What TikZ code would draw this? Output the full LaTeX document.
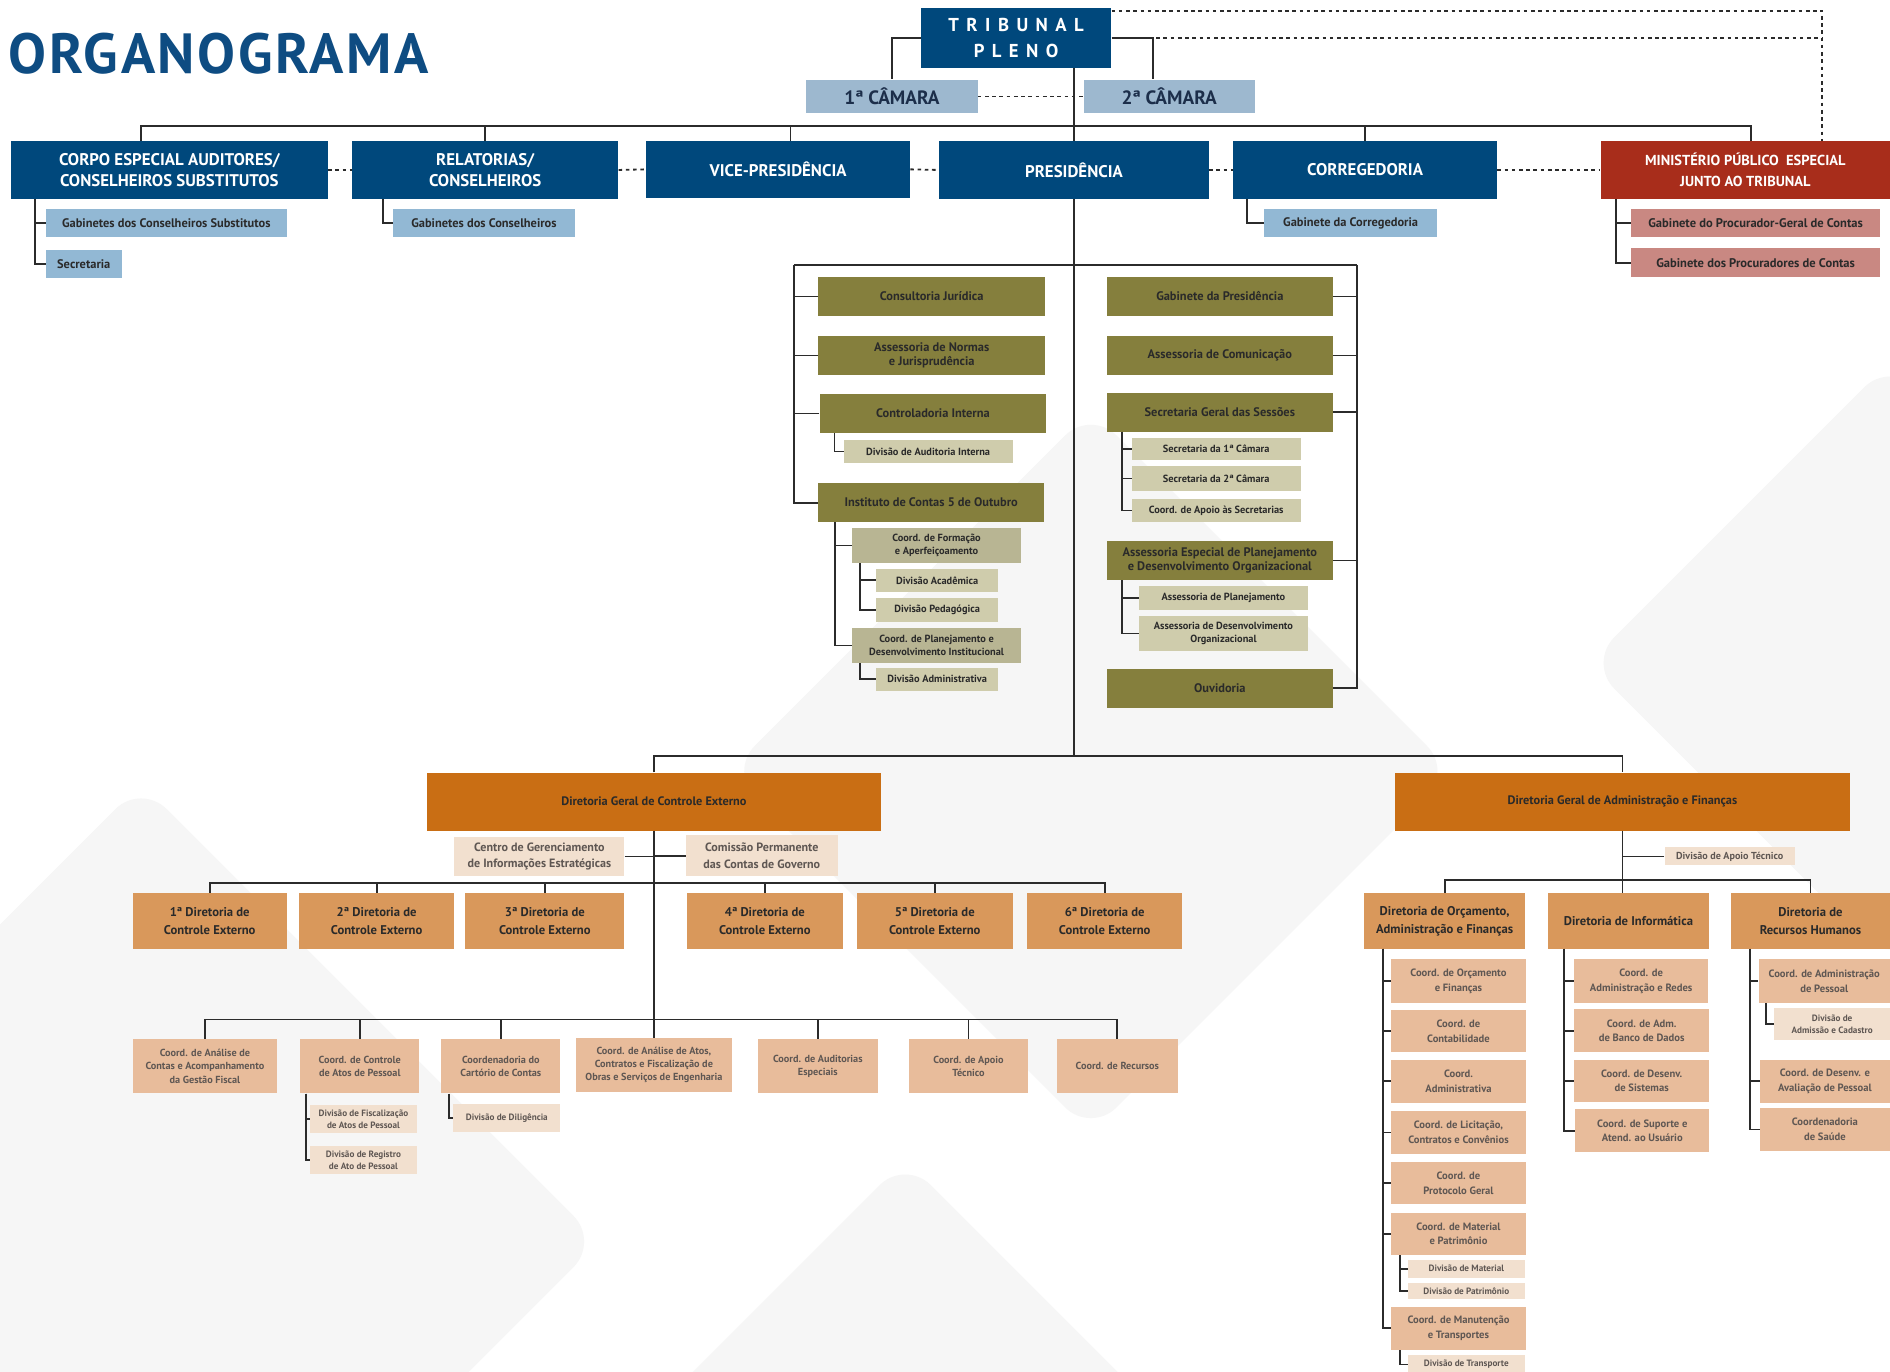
\documentclass[tikz,border=0pt]{standalone}
\usepackage{fontspec}
\setmainfont{PT Sans}
\newfontfamily\spaced{PT Sans}[LetterSpace=40]
\newfontfamily\titlefont{PT Sans}[LetterSpace=4.5]
\usepackage{xcolor}
\usepackage{tikz}

\definecolor{navy}{HTML}{00487C}
\definecolor{titleblue}{HTML}{0E4C82}
\definecolor{camblue}{HTML}{9DB8CF}
\definecolor{camtxt}{HTML}{1C2E4A}
\definecolor{subblue}{HTML}{92B8D4}
\definecolor{mpred}{HTML}{A82D1B}
\definecolor{pinkbox}{HTML}{C98882}
\definecolor{olive}{HTML}{857F3D}
\definecolor{khakil}{HTML}{CFCCAC}
\definecolor{khakid}{HTML}{B8B593}
\definecolor{dkorange}{HTML}{C96E14}
\definecolor{mdorange}{HTML}{D9985B}
\definecolor{peach}{HTML}{E8BC9B}
\definecolor{lightpeach}{HTML}{F2E0CF}
\definecolor{txtdark}{HTML}{2A2A2A}
\definecolor{txtgray}{HTML}{5F5753}
\definecolor{linec}{HTML}{2B2B2B}

\newcommand{\setfs}[2]{\fontsize{#1}{#2}\selectfont}
% name, style, x1, y1, x2, y2, text
\newcommand{\orgbox}[7]{%
  \node[#2,minimum width=#5-#3,minimum height=#6-#4] (#1) at ({(#3+#5)/2},{(#4+#6)/2}) {#7};}

\tikzset{
  box/.style={rectangle,inner sep=0pt,align=center},
  navybox/.style={box,fill=navy,text=white,font=\bfseries\setfs{14}{18}},
  tribbox/.style={box,fill=navy,text=white,font=\spaced\bfseries\setfs{15.5}{21}},
  camara/.style={box,fill=camblue,text=camtxt,font=\bfseries\setfs{16}{18}},
  bluesub/.style={box,fill=subblue,text=txtdark,font=\bfseries\setfs{10.3}{12}},
  mpbox/.style={box,fill=mpred,text=white,font=\bfseries\setfs{12}{17}},
  pinksub/.style={box,fill=pinkbox,text=txtdark,font=\bfseries\setfs{10.4}{12}},
  olivebox/.style={box,fill=olive,text=txtdark,font=\bfseries\setfs{10.3}{12}},
  khakibox/.style={box,fill=khakil,text=txtdark,font=\bfseries\setfs{8.6}{10.5}},
  khakidbox/.style={box,fill=khakid,text=txtdark,font=\bfseries\setfs{8.6}{10.5}},
  dgbox/.style={box,fill=dkorange,text=txtdark,font=\bfseries\setfs{10.2}{12}},
  dirbox/.style={box,fill=mdorange,text=txtdark,font=\bfseries\setfs{10.5}{15}},
  coordbox/.style={box,fill=peach,text=txtgray,font=\bfseries\setfs{8.5}{11}},
  coordrbox/.style={box,fill=peach,text=txtgray,font=\bfseries\setfs{8.8}{12}},
  lightbox/.style={box,fill=lightpeach,text=txtgray,font=\bfseries\setfs{7.6}{10}},
  lightwide/.style={box,fill=lightpeach,text=txtgray,font=\bfseries\setfs{10}{14}},
  link/.style={draw=linec,line width=1.5pt},
  dots/.style={draw=linec,line width=1.5pt,dash pattern=on 3pt off 3pt},
  wm/.style={fill=black!3.5,rounded corners=30pt}
}

\begin{document}
\begin{tikzpicture}[x=1pt,y=-1pt]
\fill[white] (0,0) rectangle (1568,1138);
\useasboundingbox (0,0) rectangle (1568,1138);

\begin{scope}
\clip (0,0) rectangle (1568,1138);
\fill[wm] (117,650) -- (497,1030) -- (117,1410) -- (-263,1030) -- cycle;
\fill[wm] (905,340) -- (1205,640) -- (905,940) -- (605,640) -- cycle;
\fill[wm] (751,962) -- (1051,1262) -- (751,1562) -- (451,1262) -- cycle;
\fill[wm] (1568,300) -- (1818,550) -- (1568,800) -- (1318,550) -- cycle;
\end{scope}

\node[font=\titlefont\bfseries\setfs{47}{47},text=titleblue,anchor=base west,inner sep=0pt] (titulo) at (7,61) {ORGANOGRAMA};

\orgbox{trib}{tribbox}{764}{7}{922}{56}{TRIBUNAL\\PLENO}
\orgbox{cam1}{camara}{669}{66}{811}{94}{1ª CÂMARA}
\orgbox{cam2}{camara}{899}{66}{1041}{94}{2ª CÂMARA}

\orgbox{corpo}{navybox}{9}{117}{272}{165}{CORPO ESPECIAL AUDITORES/\\CONSELHEIROS SUBSTITUTOS}
\orgbox{relat}{navybox}{292}{117}{513}{165}{RELATORIAS/\\CONSELHEIROS}
\orgbox{vice}{navybox}{536}{117}{755}{164}{VICE-PRESIDÊNCIA}
\orgbox{pres}{navybox}{779}{117}{1003}{165}{PRESIDÊNCIA}
\orgbox{correg}{navybox}{1023}{117}{1242}{165}{CORREGEDORIA}
\orgbox{mp}{mpbox}{1328}{117}{1568}{165}{MINISTÉRIO PÚBLICO\ \ ESPECIAL\\JUNTO AO TRIBUNAL}

\orgbox{gabsubst}{bluesub}{38}{173}{238}{197}{Gabinetes dos Conselheiros Substitutos}
\orgbox{secret}{bluesub}{38}{207}{101}{231}{Secretaria}
\orgbox{gabcons}{bluesub}{326}{173}{477}{197}{Gabinetes dos Conselheiros}
\orgbox{gabcorr}{bluesub}{1049}{173}{1192}{197}{Gabinete da Corregedoria}
\orgbox{gabpg}{pinksub}{1353}{173}{1560}{197}{Gabinete do Procurador-Geral de Contas}
\orgbox{gabproc}{pinksub}{1353}{206}{1560}{230}{Gabinete dos Procuradores de Contas}

\orgbox{consult}{olivebox}{679}{230}{867}{262}{Consultoria Jurídica}
\orgbox{normas}{olivebox}{679}{279}{867}{311}{Assessoria de Normas\\e Jurisprudência}
\orgbox{control}{olivebox}{680}{327}{868}{359}{Controladoria Interna}
\orgbox{divaud}{khakibox}{700}{365}{840}{384}{Divisão de Auditoria Interna}
\orgbox{instit}{olivebox}{679}{401}{866}{433}{Instituto de Contas 5 de Outubro}
\orgbox{coordform}{khakidbox}{707}{438}{847}{467}{Coord. de Formação\\e Aperfeiçoamento}
\orgbox{divacad}{khakibox}{727}{472}{828}{491}{Divisão Acadêmica}
\orgbox{divped}{khakibox}{727}{496}{828}{516}{Divisão Pedagógica}
\orgbox{coordplan}{khakidbox}{707}{521}{847}{550}{Coord. de Planejamento e\\Desenvolvimento Institucional}
\orgbox{divadm}{khakibox}{727}{554}{828}{573}{Divisão Administrativa}

\orgbox{gabpres}{olivebox}{918}{230}{1106}{262}{Gabinete da Presidência}
\orgbox{ascom}{olivebox}{918}{279}{1106}{311}{Assessoria de Comunicação}
\orgbox{sgs}{olivebox}{918}{326}{1106}{358}{Secretaria Geral das Sessões}
\orgbox{sec1}{khakibox}{939}{363}{1079}{382}{Secretaria da 1ª Câmara}
\orgbox{sec2}{khakibox}{939}{387}{1079}{407}{Secretaria da 2ª Câmara}
\orgbox{apoiosec}{khakibox}{939}{414}{1079}{433}{Coord. de Apoio às Secretarias}
\orgbox{aesp}{olivebox}{918}{449}{1106}{481}{Assessoria Especial de Planejamento\\e Desenvolvimento Organizacional}
\orgbox{asplan}{khakibox}{945}{486}{1085}{506}{Assessoria de Planejamento}
\orgbox{asdes}{khakibox}{945}{511}{1085}{540}{Assessoria de Desenvolvimento\\Organizacional}
\orgbox{ouvid}{olivebox}{918}{555}{1106}{587}{Ouvidoria}

\orgbox{dgce}{dgbox}{354}{641}{731}{689}{Diretoria Geral de Controle Externo}
\orgbox{dgaf}{dgbox}{1157}{641}{1535}{689}{Diretoria Geral de Administração e Finanças}

\orgbox{centro}{lightwide}{377}{694}{518}{727}{Centro de Gerenciamento\\de Informações Estratégicas}
\orgbox{comiss}{lightwide}{569}{693}{695}{727}{Comissão Permanente\\das Contas de Governo}
\orgbox{dir1}{dirbox}{110}{741}{238}{787}{1ª Diretoria de\\Controle Externo}
\orgbox{dir2}{dirbox}{248}{741}{377}{787}{2ª Diretoria de\\Controle Externo}
\orgbox{dir3}{dirbox}{386}{741}{518}{787}{3ª Diretoria de\\Controle Externo}
\orgbox{dir4}{dirbox}{570}{741}{699}{787}{4ª Diretoria de\\Controle Externo}
\orgbox{dir5}{dirbox}{711}{741}{840}{787}{5ª Diretoria de\\Controle Externo}
\orgbox{dir6}{dirbox}{852}{741}{981}{787}{6ª Diretoria de\\Controle Externo}

\orgbox{ca1}{coordbox}{110}{862}{230}{907}{Coord. de Análise de\\Contas e Acompanhamento\\da Gestão Fiscal}
\orgbox{ca2}{coordbox}{249}{862}{348}{907}{Coord. de Controle\\de Atos de Pessoal}
\orgbox{ca3}{coordbox}{366}{862}{465}{907}{Coordenadoria do\\Cartório de Contas}
\orgbox{ca4}{coordbox}{478}{861}{607}{906}{Coord. de Análise de Atos,\\Contratos e Fiscalização de\\Obras e Serviços de Engenharia}
\orgbox{ca5}{coordbox}{629}{862}{728}{907}{Coord. de Auditorias\\Especiais}
\orgbox{ca6}{coordbox}{754}{862}{853}{907}{Coord. de Apoio\\Técnico}
\orgbox{ca7}{coordbox}{877}{862}{977}{907}{Coord. de Recursos}
\orgbox{divfisc}{lightbox}{257}{917}{346}{940}{Divisão de Fiscalização\\de Atos de Pessoal}
\orgbox{divreg}{lightbox}{257}{951}{346}{974}{Divisão de Registro\\de Ato de Pessoal}
\orgbox{divdil}{lightbox}{376}{916}{465}{939}{Divisão de Diligência}

\orgbox{divapoio}{lightbox,font=\bfseries\setfs{8.4}{10}}{1381}{703}{1489}{718}{Divisão de Apoio Técnico}
\orgbox{dorc}{dirbox}{1132}{741}{1265}{787}{Diretoria de Orçamento,\\Administração e Finanças}
\orgbox{dinf}{dirbox}{1284}{741}{1418}{787}{Diretoria de Informática}
\orgbox{drh}{dirbox}{1436}{741}{1568}{787}{Diretoria de\\Recursos Humanos}

\orgbox{co1}{coordrbox}{1154}{796}{1266}{832}{Coord. de Orçamento\\e Finanças}
\orgbox{co2}{coordrbox}{1154}{838}{1266}{873}{Coord. de\\Contabilidade}
\orgbox{co3}{coordrbox}{1154}{879}{1266}{915}{Coord.\\Administrativa}
\orgbox{co4}{coordrbox}{1154}{922}{1266}{957}{Coord. de Licitação,\\Contratos e Convênios}
\orgbox{co5}{coordrbox}{1154}{964}{1266}{999}{Coord. de\\Protocolo Geral}
\orgbox{co6}{coordrbox}{1154}{1006}{1266}{1041}{Coord. de Material\\e Patrimônio}
\orgbox{dmat}{lightbox}{1168}{1045}{1265}{1060}{Divisão de Material}
\orgbox{dpat}{lightbox}{1168}{1064}{1265}{1078}{Divisão de Patrimônio}
\orgbox{co7}{coordrbox}{1154}{1084}{1266}{1120}{Coord. de Manutenção\\e Transportes}
\orgbox{dtra}{lightbox}{1168}{1124}{1265}{1140}{Divisão de Transporte}

\orgbox{ci1}{coordrbox}{1306}{796}{1417}{832}{Coord. de\\Administração e Redes}
\orgbox{ci2}{coordrbox}{1306}{837}{1418}{873}{Coord. de Adm.\\de Banco de Dados}
\orgbox{ci3}{coordrbox}{1306}{879}{1418}{914}{Coord. de Desenv.\\de Sistemas}
\orgbox{ci4}{coordrbox}{1307}{920}{1418}{956}{Coord. de Suporte e\\Atend. ao Usuário}

\orgbox{ch1}{coordrbox}{1459}{796}{1568}{832}{Coord. de Administração\\de Pessoal}
\orgbox{dadm}{lightbox}{1472}{836}{1568}{863}{Divisão de\\Admissão e Cadastro}
\orgbox{ch2}{coordrbox}{1460}{879}{1568}{915}{Coord. de Desenv. e\\Avaliação de Pessoal}
\orgbox{ch3}{coordrbox}{1460}{919}{1568}{955}{Coordenadoria\\de Saúde}

% tribunal e camaras
\draw[link] (trib.west) -| (cam1.north);
\draw[link] (trib.east) -| ([xshift=58]cam2.north west);
\draw[link] (trib.south -| pres.north) -- (pres.north);
\draw[dots] (cam1.east) -- (cam2.west);
\coordinate (mpdot) at ([xshift=184]mp.north west);
\draw[dots] ([yshift=-2]trib.north east) -| (mpdot);
\draw[dots] ([xshift=37]trib.east) -- (trib.east -| mpdot);

% segunda linha
\draw[link] ([xshift=108]corpo.north west) -- ++(0,-12) -| ([xshift=125]mp.north west);
\foreach \n in {relat,correg} \draw[link] (\n.north) -- ++(0,-12);
\draw[link] ([xshift=120]vice.north west) -- ++(0,-12);
\draw[dots] (corpo.east) -- (relat.west);
\draw[dots] (relat.east) -- (vice.west);
\draw[dots] (vice.east) -- (pres.west);
\draw[dots] (pres.east) -- (correg.west);
\draw[dots] (correg.east) -- (mp.west);

\foreach \n in {gabsubst,secret} \draw[link] ([xshift=20]corpo.south west) |- (\n.west);
\draw[link] ([xshift=26]relat.south west) |- (gabcons.west);
\draw[link] ([xshift=12]correg.south west) |- (gabcorr.west);
\foreach \n in {gabpg,gabproc} \draw[link] ([xshift=13]mp.south west) |- (\n.west);

% presidencia
\coordinate (pl) at (659,220);
\coordinate (pr) at (1126,220);
\draw[link] (pl) -- (pr);
\draw[link] (pl) |- (instit.west);
\draw[link] (pr) |- (ouvid.east);
\foreach \n in {consult,normas,control} \draw[link] (\n.west) -- (\n.west -| pl);
\foreach \n in {gabpres,ascom,sgs,aesp} \draw[link] (\n.east) -- (\n.east -| pr);
\draw[link] ([xshift=12.5]control.south west) |- (divaud.west);
\foreach \n in {coordform,coordplan} \draw[link] ([xshift=14]instit.south west) |- (\n.west);
\foreach \n in {divacad,divped} \draw[link] ([xshift=6.5]coordform.south west) |- (\n.west);
\draw[link] ([xshift=6.5]coordplan.south west) |- (divadm.west);
\foreach \n in {sec1,sec2,apoiosec} \draw[link] ([xshift=13]sgs.south west) |- (\n.west);
\foreach \n in {asplan,asdes} \draw[link] ([xshift=13]aesp.south west) |- (\n.west);

% diretorias gerais
\coordinate (dgbus) at (891,627);
\draw[link] (pres.south) -- (dgbus);
\draw[link] (dgce.north) |- (dgbus) -| (dgaf.north);

\draw[link] (dgce.south) -- (dgce.south |- ca4.north);
\draw[link] (centro.east) -- (centro.east -| dgce.south);
\draw[link] (comiss.west) -- (comiss.west -| dgce.south);
\draw[link] (dir1.north) -- ++(0,-8) -| (dir6.north);
\foreach \n in {dir2,dir3,dir4,dir5} \draw[link] (\n.north) -- ++(0,-8);
\draw[link] (ca1.north) -- ++(0,-16) -| (ca7.north);
\foreach \n in {ca2,ca3,ca5,ca6} \draw[link] (\n.north) -- ++(0,-16);
\foreach \n in {divfisc,divreg} \draw[link] ([xshift=5]ca2.south west) |- (\n.west);
\draw[link] ([xshift=6.5]ca3.south west) |- (divdil.west);

\draw[link] (dgaf.south) -- (dgaf.south |- dinf.north);
\draw[link] (divapoio.west) -- (divapoio.west -| dgaf.south);
\draw[link] (dorc.north) -- ++(0,-11) -| (drh.north);
\foreach \n in {co1,co2,co3,co4,co5,co6,co7} \draw[link] ([xshift=15.5]dorc.south west) |- (\n.west);
\foreach \n in {dmat,dpat} \draw[link] ([xshift=8]co6.south west) |- (\n.west);
\draw[link] ([xshift=8]co7.south west) |- (dtra.west);
\foreach \n in {ci1,ci2,ci3,ci4} \draw[link] ([xshift=14]dinf.south west) |- (\n.west);
\foreach \n in {ch1,ch2,ch3} \draw[link] ([xshift=16]drh.south west) |- (\n.west);
\draw[link] ([xshift=6]ch1.south west) |- (dadm.west);
\end{tikzpicture}
\end{document}
